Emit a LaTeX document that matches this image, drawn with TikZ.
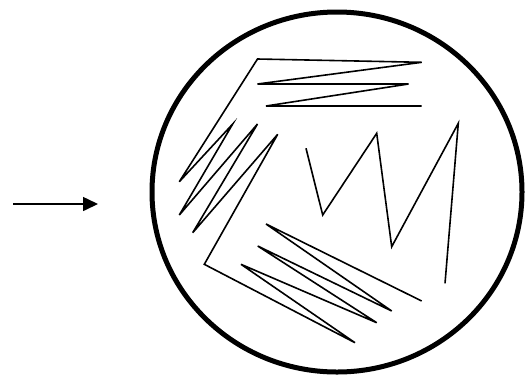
\documentclass[tikz,border=0pt]{standalone}
\usepackage{tikz}
\usetikzlibrary{arrows.meta}

\begin{document}
\begin{tikzpicture}[x=1pt,y=-1pt,
  dish/.style={line width=5pt},
  streak/.style={line width=1.6pt},
  arrow/.style={-{Triangle[length=15pt,width=14pt]},line width=1.6pt}]

\useasboundingbox (0,0) rectangle (526,376);

% plate
\draw[dish] (337,192) ellipse [x radius=185, y radius=180];

% pointer
\coordinate (tail) at (13,204);
\coordinate (tip) at (98,204);
\draw[arrow] (tail) -- (tip);

% streaks 1, 2 and 3
\draw[streak] (421.7,106) -- (266,106) -- (408.5,84) -- (257.5,84)
  -- (421.7,62.3) -- (257.5,59)
  -- (179.3,181.7) -- (232.7,124) -- (179.3,215) -- (257.5,124)
  -- (192.7,232.7) -- (277.7,134.3)
  -- (204.3,264.3) -- (355,342.7) -- (241,264.3) -- (376.7,322.7)
  -- (257.7,246) -- (391.7,311) -- (266,224) -- (421.7,301);

% last streak
\draw[streak] (306,148.3) -- (322.7,215) -- (376.7,133.3)
  -- (391.7,246.7) -- (458.3,123.3) -- (445,283.3);
\end{tikzpicture}
\end{document}
